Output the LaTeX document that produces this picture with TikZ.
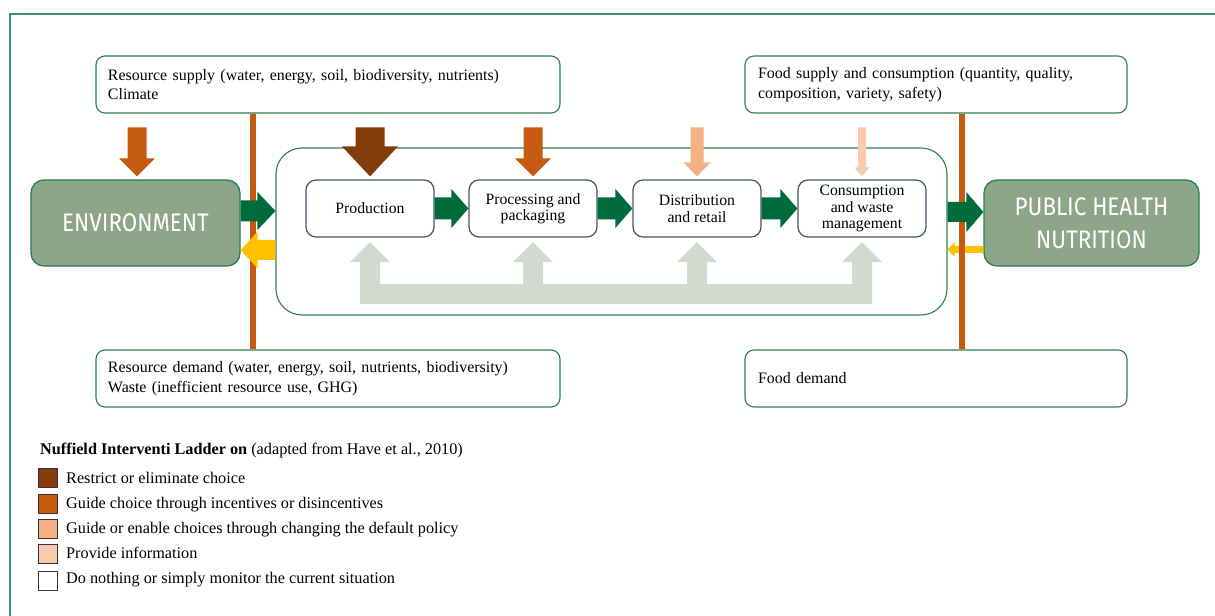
\documentclass[tikz,border=0pt]{standalone}
\usepackage{fontspec}
\setmainfont{Liberation Serif}
\newfontfamily\headfont{Fira Sans}
\usetikzlibrary{calc}

\definecolor{framegreen}{HTML}{3F8F63}
\definecolor{boxgreen}{HTML}{2A7F4F}
\definecolor{envfill}{HTML}{8DA688}
\definecolor{flowgreen}{HTML}{006B3A}
\definecolor{stepblue}{HTML}{44546A}
\definecolor{yellowc}{HTML}{FFC000}
\definecolor{rustc}{HTML}{C55A11}
\definecolor{brownc}{HTML}{843C0C}
\definecolor{peachc}{HTML}{F4B183}
\definecolor{paleorange}{HTML}{F8CBAD}
\definecolor{loopgray}{HTML}{D2D9CF}

% horizontal block arrow: from, to, half shaft, half head, head length, colour
\newcommand\hblock[6]{%
  \fill[#6] let \p1=(#1), \p2=(#2), \n2={\x2-sign(\x2-\x1)*#5} in
    (\x1,\y1-#3) -- (\n2,\y1-#3) -- (\n2,\y1-#4) -- (\x2,\y1)
    -- (\n2,\y1+#4) -- (\n2,\y1+#3) -- (\x1,\y1+#3) -- cycle;}
% vertical block arrow: from, to, half shaft, half head, head length, colour
\newcommand\vblock[6]{%
  \fill[#6] let \p1=(#1), \p2=(#2), \n2={\y2-sign(\y2-\y1)*#5} in
    (\x1-#3,\y1) -- (\x1-#3,\n2) -- (\x1-#4,\n2) -- (\x1,\y2)
    -- (\x1+#4,\n2) -- (\x1+#3,\n2) -- (\x1+#3,\y1) -- cycle;}

\tikzset{
  infobox/.style={draw=boxgreen, line width=1.1bp, fill=white, rounded corners=9bp,
    minimum height=57bp, align=left, font=\fontsize{16}{19.5}\selectfont,
    inner ysep=0pt},
  stepbox/.style={draw=stepblue, line width=1.2bp, fill=white, rounded corners=10bp,
    minimum width=128bp, minimum height=57bp, align=center, inner sep=0pt,
    font=\fontsize{15.8}{16.5}\selectfont},
  pole/.style={draw=boxgreen, line width=1.3bp, fill=envfill, rounded corners=13bp,
    minimum height=86bp, align=center, text=white,
    font=\headfont\fontsize{25.5}{33}\selectfont},
  legsq/.style={draw=black!80, line width=0.8bp, minimum size=19bp, inner sep=0pt},
  legtxt/.style={anchor=base west, inner sep=0pt, font=\fontsize{16.3}{18}\selectfont},
  pole line/.style={draw=rustc, line width=5.5bp},
}

\begin{document}
\begin{tikzpicture}[x=1bp,y=-1bp]
\useasboundingbox (0,0) rectangle (1215,616);

% open frame around the figure
\draw[framegreen, line width=1.2bp] (10,640) -- (10,14) -- (1240,14);

% central chain container
\node[draw=boxgreen, line width=1.1bp, rounded corners=26bp, minimum width=671bp,
  minimum height=167bp, inner sep=0pt] (mid) at (611.5,231.5) {};

% information boxes
\node[infobox, text width=440bp, inner xsep=12bp] (rs) at (328,84.5)
  {Resource supply (water, energy, soil, biodiversity, nutrients)\\Climate};
\node[infobox, text width=356bp, inner xsep=13bp] (fs) at (936,84.5)
  {Food supply and consumption (quantity, quality,\\composition, variety, safety)};
\node[infobox, text width=440bp, inner xsep=12bp] (rd) at (328,378.5)
  {Resource demand (water, energy, soil, nutrients, biodiversity)\\Waste (inefficient resource use, GHG)};
\node[infobox, text width=356bp, inner xsep=13bp] (fd) at (936,378.5)
  {Food demand};

% the two poles
\node[pole, minimum width=209bp] (env) at (135.5,223) {\scalebox{0.88}[1]{ENVIRONMENT}};
\node[pole, minimum width=215bp] (phn) at (1091.5,223)
  {\scalebox{0.88}[1]{PUBLIC HEALTH}\\\scalebox{0.88}[1]{NUTRITION}};

% chain steps
\node[stepbox] (prod) at (370,208.5) {Production};
\node[stepbox] (proc) at (533,208.5) {Processing and\\packaging};
\node[stepbox] (dist) at (697,208.5) {Distribution\\and retail};
\node[stepbox] (cons) at (862,208.5) {Consumption\\and waste\\management};

% feedback from nutrition side (under the pole line)
\coordinate (q1) at ([yshift=-26.5bp]phn.west);
\hblock{q1}{q1 -| mid.east}{3.5bp}{7.5bp}{7bp}{yellowc}

% boundary lines between system and surroundings
\coordinate (lx) at (253,0);
\coordinate (rx) at (962,0);
\draw[pole line] (lx |- rs.south) -- (lx |- rd.north);
\draw[pole line] (rx |- fs.south) -- (rx |- fd.north);

% environment exchange
\coordinate (e1) at ([yshift=12bp]env.east);
\hblock{e1}{e1 -| mid.west}{10.5bp}{19bp}{18bp}{flowgreen}
\coordinate (y1) at ([yshift=-27bp]env.east);
\hblock{y1 -| mid.west}{y1}{10bp}{18.5bp}{17bp}{yellowc}

% flow along the chain
\hblock{prod.east}{proc.west}{11bp}{19.5bp}{17bp}{flowgreen}
\hblock{proc.east}{dist.west}{11bp}{19.5bp}{17bp}{flowgreen}
\hblock{dist.east}{cons.west}{11bp}{19.5bp}{17bp}{flowgreen}

% chain to nutrition
\coordinate (p1) at ([yshift=11bp]phn.west);
\hblock{p1 -| mid.east}{p1}{10bp}{20bp}{17bp}{flowgreen}

% intervention arrows
\coordinate (s0) at ([xshift=1.5bp,yshift=52bp]env.north);
\coordinate (t0) at ([xshift=1.5bp,yshift=3bp]env.north);
\vblock{s0}{t0}{9.5bp}{18bp}{18bp}{rustc}
\coordinate (s1) at ([yshift=52bp]prod.north);
\coordinate (t1) at ([yshift=3bp]prod.north);
\vblock{s1}{t1}{14.5bp}{28bp}{30bp}{brownc}
\coordinate (s2) at ([yshift=52bp]proc.north);
\coordinate (t2) at ([yshift=3bp]proc.north);
\vblock{s2}{t2}{9.5bp}{18bp}{18bp}{rustc}
\coordinate (s3) at ([yshift=52bp]dist.north);
\coordinate (t3) at ([yshift=3bp]dist.north);
\vblock{s3}{t3}{6.5bp}{13.5bp}{14bp}{peachc}
\coordinate (s4) at ([yshift=52bp]cons.north);
\coordinate (t4) at ([yshift=3bp]cons.north);
\vblock{s4}{t4}{4bp}{7.5bp}{9bp}{paleorange}

% feedback loop under the chain
\fill[loopgray] ([xshift=-10bp,yshift=-46bp]prod.south) rectangle ([xshift=10bp,yshift=-66bp]cons.south);
\foreach \b in {prod,proc,dist,cons}{
  \coordinate (u\b) at ([yshift=-66bp]\b.south);
  \coordinate (v\b) at ([yshift=-4.5bp]\b.south);
  \vblock{u\b}{v\b}{10bp}{20bp}{20bp}{loopgray}
}

% legend
\node[legtxt] (lt0) at (40,454) {\textbf{Nuffield Interventi Ladder on} (adapted from Have et al., 2010)};
\node[legsq, fill=brownc] (sq1) at (47.5,477.5) {};
\node[legsq, fill=rustc] (sq2) at (47.5,503.5) {};
\node[legsq, fill=peachc] (sq3) at (47.5,528.5) {};
\node[legsq, fill=paleorange] (sq4) at (47.5,554) {};
\node[legsq, fill=white] (sq5) at (47.5,580.5) {};
\node[legtxt] (lt1) at (66,483.5) {Restrict or eliminate choice};
\node[legtxt] (lt2) at (66,508) {Guide choice through incentives or disincentives};
\node[legtxt] (lt3) at (66,533.5) {Guide or enable choices through changing the default policy};
\node[legtxt] (lt4) at (66,558) {Provide information};
\node[legtxt] (lt5) at (66,583) {Do nothing or simply monitor the current situation};
\end{tikzpicture}
\end{document}
